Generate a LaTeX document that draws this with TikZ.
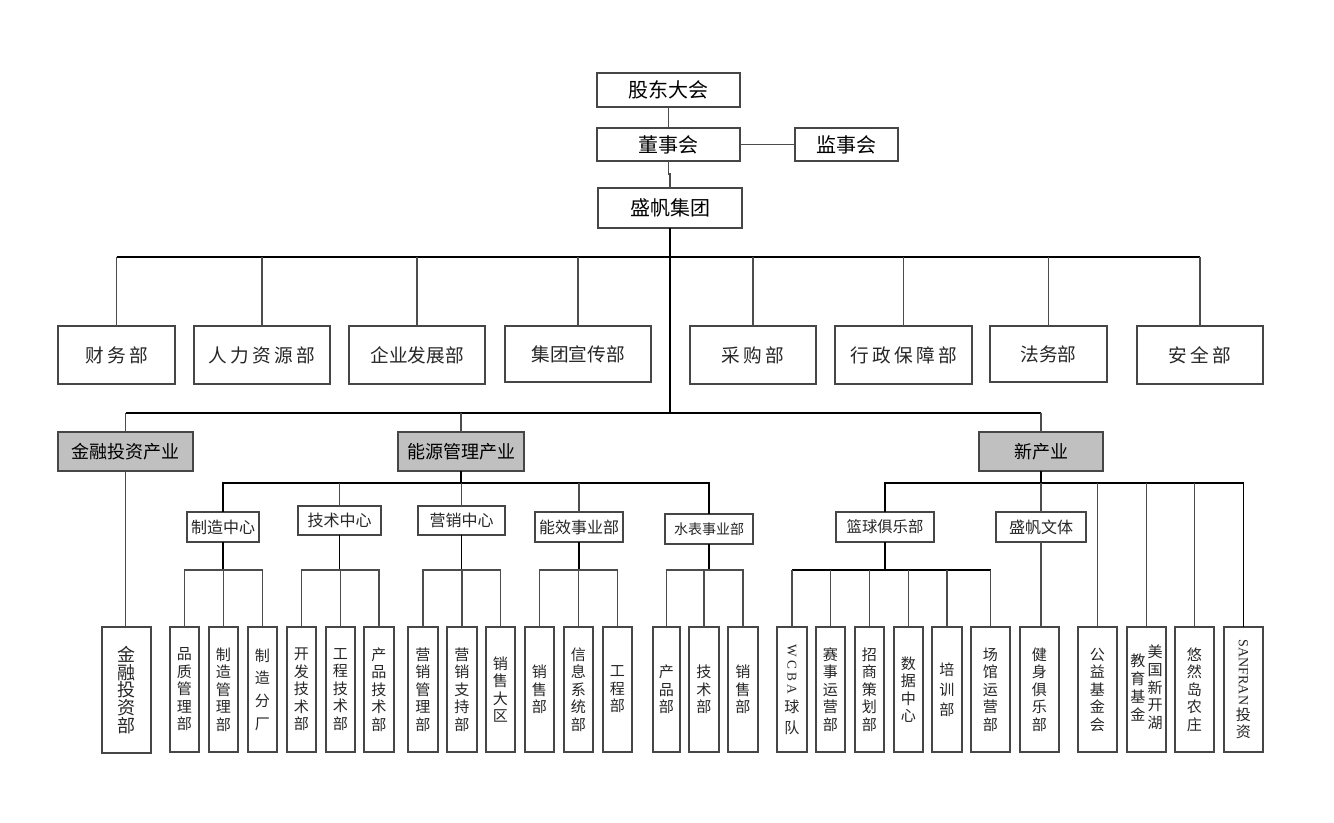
\documentclass[tikz,border=0pt]{standalone}
\usepackage{fontspec}
\usepackage{graphicx}
\setmainfont{Noto Sans CJK SC}
\newfontfamily\latf{Liberation Serif}
\definecolor{indgray}{RGB}{192,192,192}
\definecolor{edgec}{RGB}{70,70,70}
\newcommand\gapx{\hspace{2.5pt}}
\begin{document}
\begin{tikzpicture}[x=0.75pt,y=-0.75pt,
 bx/.style={draw=edgec,line width=0.9pt,inner sep=0pt,outer sep=0pt,fill=white},
 sz/.style 2 args={minimum width={#1*0.75pt},minimum height={#2*0.75pt}},
 topbox/.style={bx,font=\fontsize{15}{18}\selectfont},
 dept/.style={bx,font=\fontsize{14}{16}\selectfont,text=black!85},
 ind/.style={bx,fill=indgray,font=\fontsize{13.5}{16}\selectfont},
 ctr/.style={bx,font=\fontsize{12}{14}\selectfont,text=black!85},
 leaf/.style={bx,align=center,font=\fontsize{11.3}{13.1}\selectfont,text=black!85},
 leafb/.style={bx,font=\fontsize{11.3}{13.1}\selectfont,text=black!85},
 conn/.style={draw=black!70,line width=0.9pt},
 bus/.style={draw=black,line width=1pt},
 dark/.style={draw=black,line width=1.4pt},
 heavy/.style={draw=black,line width=2.2pt}
]
\fill[white] (0,0) rectangle (1334,822);
\useasboundingbox (0,0) rectangle (1334,822);

% bus levels
\coordinate (y174) at (0,174);
\coordinate (y257) at (0,257);
\coordinate (y413) at (0,413);
\coordinate (y483) at (0,483);
\coordinate (y570) at (0,570);

% top
\node[topbox,sz={143}{34}] (gd) at (668.5,90) {股东大会};
\node[topbox,sz={143}{33}] (ds) at (668.5,144.5) {董事会};
\node[topbox,sz={103}{33}] (js) at (846.5,144.5) {监事会};
\node[topbox,sz={144}{40}] (jt) at (670,208) {盛帆集团};

% departments
\node[dept,sz={117}{58}] (d1) at (116.5,355) {财\gapx 务\gapx 部};
\node[dept,sz={136}{58}] (d2) at (262,355) {人\gapx 力\gapx 资\gapx 源\gapx 部};
\node[dept,sz={136}{58}] (d3) at (417,355) {企业发展部};
\node[dept,sz={146}{56}] (d4) at (578,354) {集团宣传部};
\node[dept,sz={126}{58}] (d5) at (753,355) {采\gapx 购\gapx 部};
\node[dept,sz={137}{58}] (d6) at (903.5,355) {行\gapx 政\gapx 保\gapx 障\gapx 部};
\node[dept,sz={117}{56}] (d7) at (1048.5,354) {法务部};
\node[dept,sz={126}{58}] (d8) at (1200,355) {安\gapx 全\gapx 部};

% industries
\node[ind,sz={135}{39}] (i1) at (125.5,451.5) {金融投资产业};
\node[ind,sz={126}{39}] (i2) at (461,451.5) {能源管理产业};
\node[ind,sz={124}{39}] (i3) at (1041,451.5) {新产业};

% centres
\node[ctr,sz={72}{30}] (c1) at (223,527) {制造中心};
\node[ctr,sz={83}{29}] (c2) at (339.5,520.5) {技术中心};
\node[ctr,sz={87}{29}] (c3) at (461.5,520.5) {营销中心};
\node[ctr,sz={88}{30}] (c4) at (579,527) {能效事业部};
\node[ctr,sz={88}{30},font=\fontsize{10.5}{12}\selectfont] (c5) at (709,529) {水表事业部};
\node[ctr,sz={98}{30},font=\fontsize{11.5}{13}\selectfont] (c6) at (885,527) {篮球俱乐部};
\node[ctr,sz={90}{30}] (c7) at (1041,527) {盛帆文体};

% leaves
\node[leaf,sz={49}{126},font=\fontsize{13.5}{13.3}\selectfont] (l0) at (126.5,690) {金\\融\\投\\资\\部};
\node[leaf,sz={29}{125}] (l11) at (184.5,689.5) {品\\质\\管\\理\\部};
\node[leaf,sz={29}{125}] (l12) at (223.5,689.5) {制\\造\\管\\理\\部};
\node[leaf,sz={29}{125},font=\fontsize{11.3}{17}\selectfont] (l13) at (262.5,689.5) {制\\造\\分\\厂};
\node[leaf,sz={29}{125}] (l21) at (301.5,689.5) {开\\发\\技\\术\\部};
\node[leaf,sz={29}{125}] (l22) at (340.5,689.5) {工\\程\\技\\术\\部};
\node[leaf,sz={30}{125}] (l23) at (379,689.5) {产\\品\\技\\术\\部};
\node[leaf,sz={30}{125}] (l31) at (423,689.5) {营\\销\\管\\理\\部};
\node[leaf,sz={30}{125}] (l32) at (462,689.5) {营\\销\\支\\持\\部};
\node[leaf,sz={29}{125}] (l33) at (500.5,689.5) {销\\售\\大\\区};
\node[leaf,sz={29}{125}] (l41) at (539.5,689.5) {销\\售\\部};
\node[leaf,sz={29}{125}] (l42) at (578.5,689.5) {信\\息\\系\\统\\部};
\node[leaf,sz={29}{125}] (l43) at (617.5,689.5) {工\\程\\部};
\node[leaf,sz={27}{125}] (l51) at (666.5,689.5) {产\\品\\部};
\node[leaf,sz={30}{125}] (l52) at (704,689.5) {技\\术\\部};
\node[leaf,sz={30}{125}] (l53) at (743,689.5) {销\\售\\部};
\node[leaf,sz={30}{125}] (l61) at (792,689.5) {{\latf\fontsize{10}{12}\selectfont\rotatebox{-90}{W C B A}}\\[3pt]球\\[3pt]队};
\node[leaf,sz={29}{125}] (l62) at (830.5,689.5) {赛\\事\\运\\营\\部};
\node[leaf,sz={29}{125}] (l63) at (869.5,689.5) {招\\商\\策\\划\\部};
\node[leaf,sz={29}{125}] (l64) at (908.5,689.5) {数\\据\\中\\心};
\node[leaf,sz={30}{125}] (l65) at (947,689.5) {培\\[2pt]训\\[2pt]部};
\node[leaf,sz={39}{125}] (l66) at (990.5,689.5) {场\\馆\\运\\营\\部};
\node[leaf,sz={39}{125}] (l71) at (1039.5,689.5) {健\\身\\俱\\乐\\部};
\node[leaf,sz={39}{125}] (l81) at (1097.5,689.5) {公\\益\\基\\金\\会};
\node[leafb,sz={39}{125}] (l82) at (1146.5,689.5) {$\vcenter{\hbox{\begin{tabular}{@{}c@{}}教\\育\\基\\金\end{tabular}}}\hspace{1.5pt}\vcenter{\hbox{\begin{tabular}{@{}c@{}}美\\国\\新\\开\\湖\end{tabular}}}$};
\node[leaf,sz={39}{125}] (l83) at (1194.5,689.5) {悠\\然\\岛\\农\\庄};
\node[leaf,sz={39}{125}] (l84) at (1243.5,689.5) {{\latf\fontsize{10.5}{12}\selectfont\rotatebox{-90}{SANFRAN}}\\[1pt]投\\资};

% connectors: top
\draw[conn] (gd.south) -- (ds.north);
\draw[conn] (ds.east) -- (js.west);
\draw[conn] (ds.south) -- (ds.south |- y174) -| (jt.north);
\draw[heavy] (jt.south) -- (jt.south |- y413);

% departments
\draw[bus] (d1.north |- y257) -- (d8.north |- y257);
\foreach \d in {d1,d2,d3,d4,d5,d6,d7,d8} \draw[conn] (\d.north) -- (\d.north |- y257);

% industries
\draw[bus] (i1.north |- y413) -- (i3.north |- y413);
\foreach \i in {i1,i2,i3} \draw[conn] (\i.north) -- (\i.north |- y413);
\draw[conn] (i1.south) -- (i1.south |- l0.north);

% energy
\draw[bus] (i2.south) -- (i2.south |- y483);
\draw[bus] (c1.north) |- (c5.north |- y483) -- (c5.north);
\foreach \c in {c2,c3,c4} \draw[conn] (\c.north) -- (\c.north |- y483);

% new industry
\draw[bus] (i3.south) -- (i3.south |- y483);
\draw[bus] (c6.north) |- (l84.north |- y483) -- (l84.north);
\foreach \l in {c7,l81,l82,l83} \draw[conn] (\l.north |- y483) -- (\l.north);

% centre to leaves
\draw[dark] (c1.south) -- (c1.south |- y570);
\draw[conn] (l11.north) |- (l13.north |- y570) -- (l13.north);
\draw[conn] (l12.north) -- (l12.north |- y570);

\draw[dark] (c2.south) -- (c2.south |- y570);
\draw[conn] (l21.north) |- (l23.north |- y570) -- (l23.north);
\draw[conn] (l22.north) -- (l22.north |- y570);

\draw[dark] (c3.south) -- (c3.south |- y570);
\draw[conn] (l31.north) |- (l33.north |- y570) -- (l33.north);
\draw[conn] (l32.north) -- (l32.north |- y570);

\draw[dark] (c4.south) -- (c4.south |- y570);
\draw[conn] (l41.north) |- (l43.north |- y570) -- (l43.north);
\draw[conn] (l42.north) -- (l42.north |- y570);

\draw[dark] (c5.south) -- (c5.south |- y570);
\draw[conn] (l51.north) |- (l53.north |- y570) -- (l53.north);
\draw[conn] (l52.north) -- (l52.north |- y570);

\draw[heavy] (c6.south) -- (c6.south |- y570);
\draw[bus] (l61.north |- y570) -- (l66.north |- y570);
\foreach \l in {l61,l62,l63,l64,l65,l66} \draw[conn] (\l.north) -- (\l.north |- y570);

\draw[conn] (c7.south) -- (c7.south |- l71.north);
\end{tikzpicture}
\end{document}
